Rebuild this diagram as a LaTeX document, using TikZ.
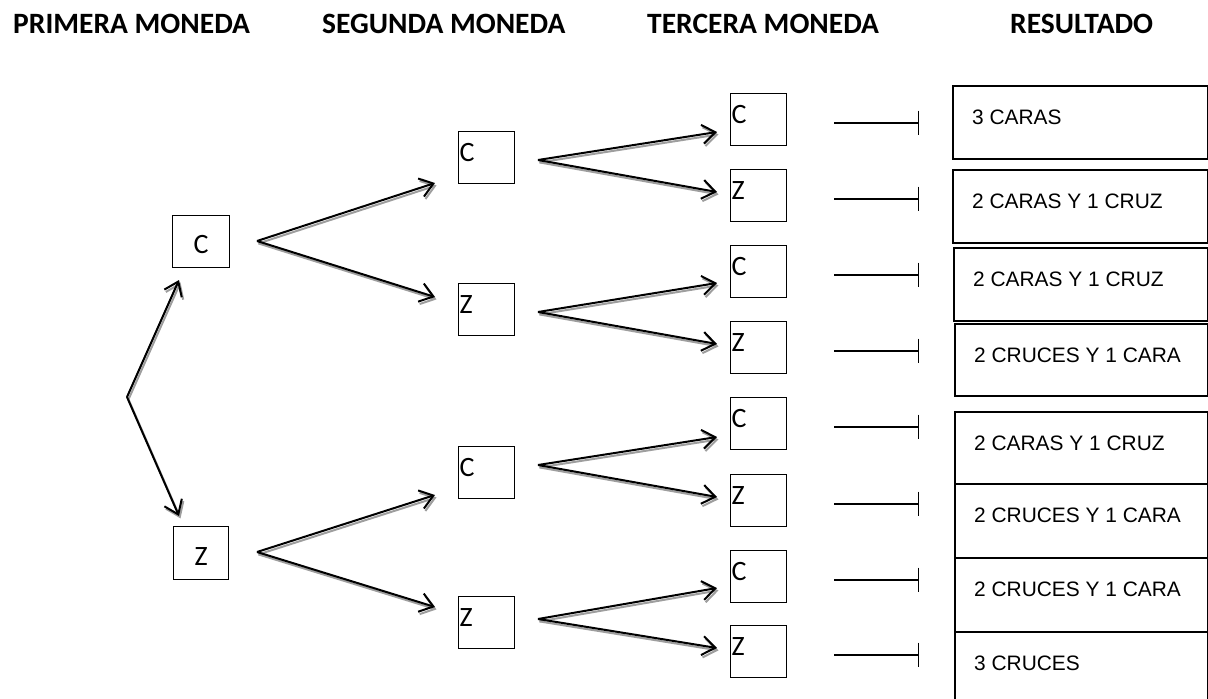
\documentclass[tikz,border=0pt]{standalone}
\usepackage{fontspec}
\setmainfont{Carlito}
\newfontfamily\arialfont{Liberation Sans}
\usetikzlibrary{arrows.meta,calc}
\tikzset{
  hdr/.style={anchor=base west, inner sep=0pt, font=\fontsize{29.5}{31}\selectfont\bfseries},
  coin/.style={draw, line width=1.3pt, minimum width=56pt, minimum height=52pt, inner sep=0pt, anchor=north west},
  cornerletter/.style={anchor=base west, inner sep=0pt, xshift=1.5pt, yshift=-30pt, font=\fontsize{28}{30}\selectfont},
  midletter/.style={anchor=base, inner sep=0pt, yshift=-3pt, font=\fontsize{28}{30}\selectfont},
  result/.style={draw, line width=1.8pt, inner sep=0pt, anchor=north west},
  restext/.style={anchor=base west, inner sep=0pt, xshift=20pt, yshift=-39pt, font=\arialfont\fontsize{20.9}{23}\selectfont},
  arrowline/.style={line width=2pt, black, -{Straight Barb[length=13pt,width=19pt]}},
  shadowline/.style={line width=2pt, black!38, -{Straight Barb[length=13pt,width=19pt]}},
  teeline/.style={line width=1.8pt, -{Bar[width=24pt,line width=1.8pt]}}
}
\newcommand{\shadowarrow}[2]{%
  \draw[shadowline] ([shift={(1.5,2.4)}]#1) -- ([shift={(1.5,2.4)}]#2);
  \draw[arrowline] (#1) -- (#2);}
\begin{document}
\begin{tikzpicture}[x=1pt,y=-1pt]
\useasboundingbox (0,0) rectangle (1208,699);
\fill[white] (0,0) rectangle (1208,699);
% headers
\node[hdr] (h1) at (13,33) {PRIMERA MONEDA};
\node[hdr] (h2) at (322,33) {SEGUNDA MONEDA};
\node[hdr] (h3) at (647,33) {TERCERA MONEDA};
\node[hdr] (h4) at (1010,33) {RESULTADO};
% level 1
\node[coin, minimum width=57pt, label={[midletter]center:C}] (a1) at (172,215) {};
\node[coin, minimum width=55pt, minimum height=53pt, label={[midletter]center:Z}] (a2) at (173,526) {};
% level 2
\node[coin, label={[cornerletter]north west:C}] (b1) at (458,131) {};
\node[coin, label={[cornerletter]north west:Z}] (b2) at (458,283) {};
\node[coin, label={[cornerletter]north west:C}] (b3) at (458,446) {};
\node[coin, label={[cornerletter]north west:Z}] (b4) at (458,596) {};
% level 3
\node[coin, label={[cornerletter]north west:C}] (t1) at (730,93) {};
\node[coin, label={[cornerletter]north west:Z}] (t2) at (730,169) {};
\node[coin, label={[cornerletter]north west:C}] (t3) at (730,245) {};
\node[coin, label={[cornerletter]north west:Z}] (t4) at (730,321) {};
\node[coin, label={[cornerletter]north west:C}] (t5) at (730,397) {};
\node[coin, label={[cornerletter]north west:Z}] (t6) at (730,474) {};
\node[coin, label={[cornerletter]north west:C}] (t7) at (730,550) {};
\node[coin, label={[cornerletter]north west:Z}] (t8) at (730,625) {};
% results
\node[result, minimum width=255pt, minimum height=73pt, label={[restext]north west:3 CARAS}] (r1) at (952,85) {};
\node[result, minimum width=255pt, minimum height=73pt, label={[restext]north west:2 CARAS Y 1 CRUZ}] (r2) at (952,169) {};
\node[result, minimum width=254pt, minimum height=73pt, label={[restext]north west:2 CARAS Y 1 CRUZ}] (r3) at (953,247) {};
\node[result, minimum width=253pt, minimum height=72pt, label={[restext]north west:2 CRUCES Y 1 CARA}] (r4) at (954,323) {};
\node[result, minimum width=253pt, minimum height=72pt, label={[restext]north west:2 CARAS Y 1 CRUZ}] (r5) at (954,411) {};
\node[result, minimum width=253pt, minimum height=74pt, label={[restext]north west:2 CRUCES Y 1 CARA}] (r6) at (954,483) {};
\node[result, minimum width=253pt, minimum height=74pt, label={[restext]north west:2 CRUCES Y 1 CARA}] (r7) at (954,557) {};
\node[result, minimum width=253pt, minimum height=80pt, label={[restext]north west:3 CRUCES}] (r8) at (954,631) {};
% branch points and arrow tips
\coordinate (o) at (127,397);
\coordinate (oa1) at (179,280);
\coordinate (oa2) at (179,516);
\coordinate (fa1) at (257,241);
\coordinate (fa2) at (257,552);
\coordinate (tb1) at (435,183);
\coordinate (tb2) at (435,297);
\coordinate (tb3) at (435,495);
\coordinate (tb4) at (435,607);
\coordinate (fb1) at (538,160);
\coordinate (fb2) at (538,312);
\coordinate (fb3) at (538,465);
\coordinate (fb4) at (538,619);
\coordinate (tt1) at (717,132);
\coordinate (tt2) at (717,192);
\coordinate (tt3) at (717,283);
\coordinate (tt4) at (717,344);
\coordinate (tt5) at (717,437);
\coordinate (tt6) at (717,497);
\coordinate (tt7) at (717,588);
\coordinate (tt8) at (717,648);
% arrows
\shadowarrow{o}{oa1}
\shadowarrow{o}{oa2}
\shadowarrow{fa1}{tb1}
\shadowarrow{fa1}{tb2}
\shadowarrow{fa2}{tb3}
\shadowarrow{fa2}{tb4}
\shadowarrow{fb1}{tt1}
\shadowarrow{fb1}{tt2}
\shadowarrow{fb2}{tt3}
\shadowarrow{fb2}{tt4}
\shadowarrow{fb3}{tt5}
\shadowarrow{fb3}{tt6}
\shadowarrow{fb4}{tt7}
\shadowarrow{fb4}{tt8}
% tee lines
\foreach \i in {1,...,8}{
  \draw[teeline] ($(t\i.east)+(47,3)$) -- ++(85,0);
}
\end{tikzpicture}
\end{document}
